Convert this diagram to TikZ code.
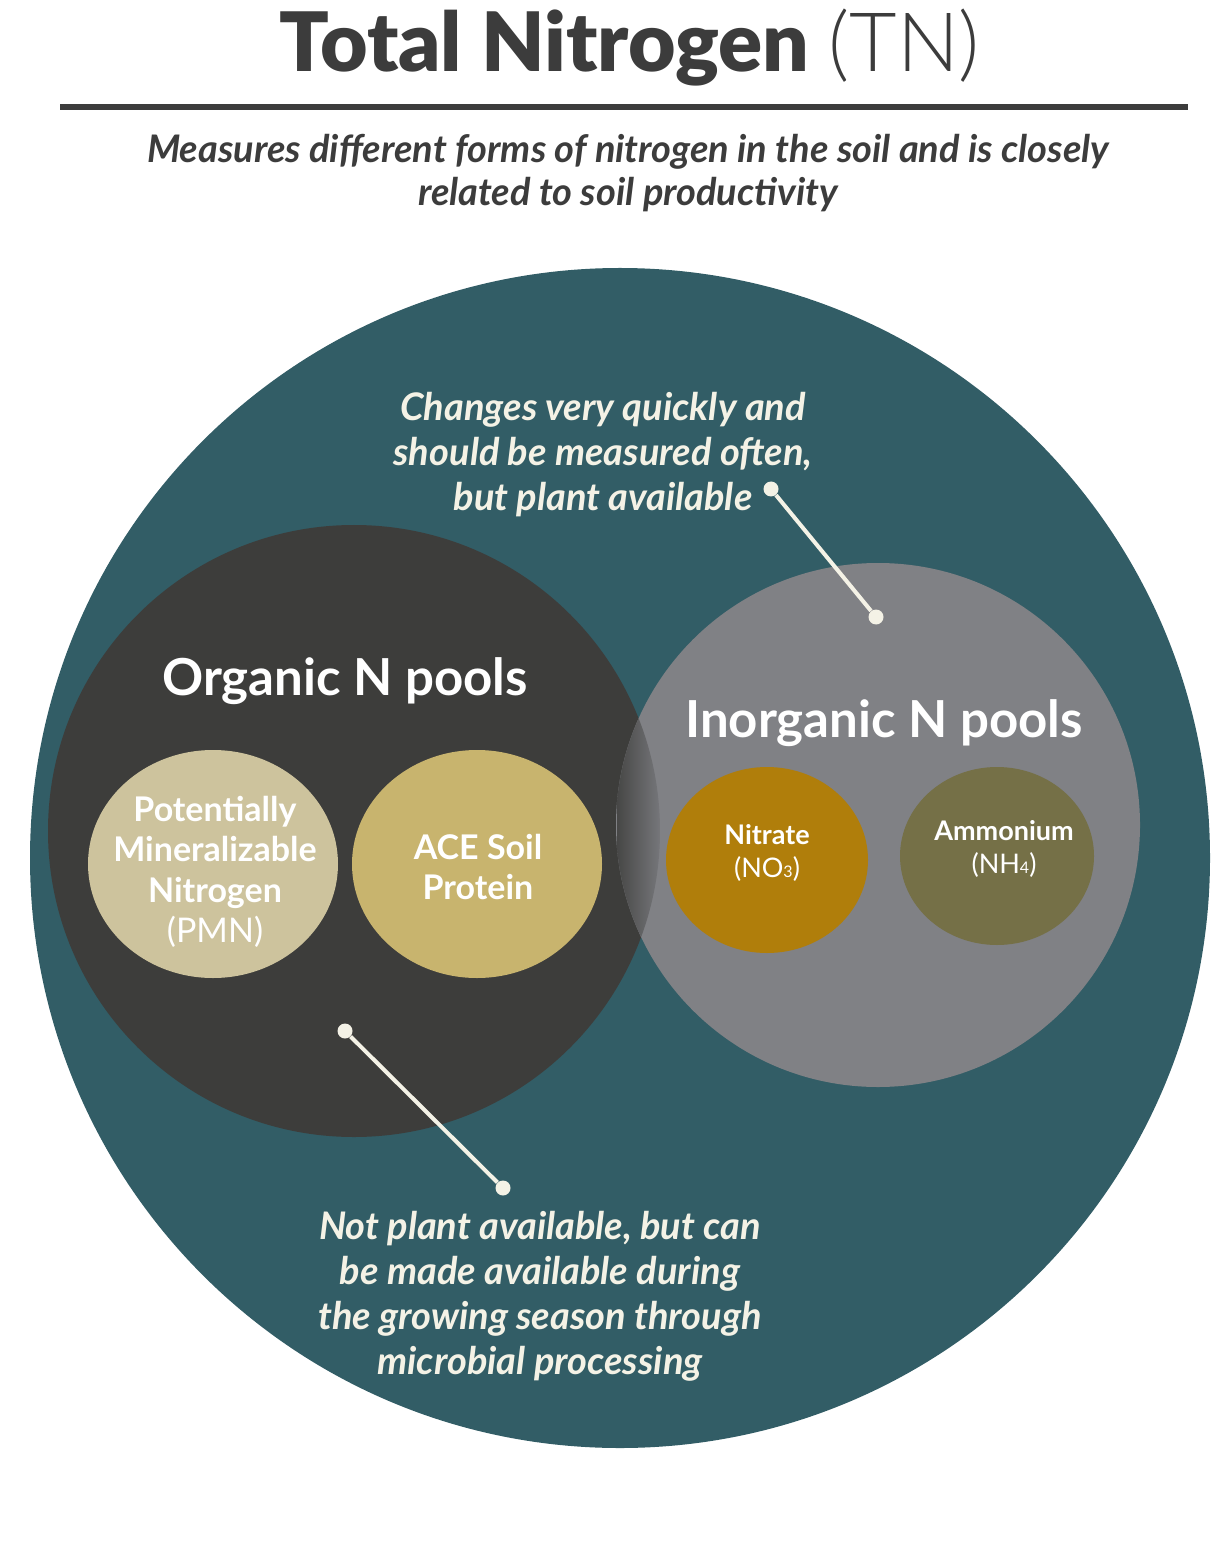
\documentclass[tikz,border=0pt]{standalone}
\usepackage{fontspec}
\setmainfont{Lato}
\newfontfamily\blackfont{Lato Black}
\newfontfamily\lightfont{Lato Light}
\usetikzlibrary{shapes.geometric}

\definecolor{ink}{HTML}{3C3C3C}
\definecolor{teal}{HTML}{325D66}
\definecolor{orgdark}{HTML}{3D3D3B}
\definecolor{inorggray}{HTML}{808185}
\definecolor{pmncol}{HTML}{CDC39D}
\definecolor{acecol}{HTML}{C8B46E}
\definecolor{nitcol}{HTML}{B07E0B}
\definecolor{ammcol}{HTML}{757047}
\definecolor{cream}{HTML}{F4F2E6}

\begin{document}
\begin{tikzpicture}[x=0.5pt,y=-0.5pt,
  pool/.style={circle, inner sep=0pt, draw=none},
  subpool/.style={ellipse, inner sep=0pt, draw=none},
  dotend/.style={circle, fill=cream, inner sep=0pt, minimum size=7.5pt},
  conn/.style={draw=cream, line width=2pt},
  poolname/.style={text=white, font=\bfseries\fontsize{25.5}{30}\selectfont, anchor=base},
  subname/.style={text=white, align=center, font=\bfseries\fontsize{17}{20.25}\selectfont},
  smallname/.style={text=white, align=center, font=\bfseries\fontsize{13.5}{16.5}\selectfont},
  note/.style={text=cream, align=center, font=\bfseries\itshape\fontsize{19}{22.5}\selectfont}]

\useasboundingbox (0,0) rectangle (1214,1550);

% heading
\node[font=\blackfont\fontsize{41}{49}\selectfont, text=ink, anchor=base] (title) at (630,72)
  {Total Nitrogen {\lightfont (TN)}};
\coordinate (rulel) at (60,107);
\coordinate (ruler) at (1188,107);
\draw[ink, line width=3pt] (rulel) -- (ruler);
\node[align=center, text=ink, font=\bfseries\itshape\fontsize{19}{21.5}\selectfont] (subt) at (628,173)
  {Measures different forms of nitrogen in the soil and is closely\\related to soil productivity};

% nested pools
\node[pool, fill=teal, minimum size=590pt] (total) at (620,858) {};
\node[pool, fill=orgdark, minimum size=306pt] (org) at (354,831) {};
\node[pool, fill=inorggray, minimum size=262pt] (inorg) at (878,825) {};

% overlap of the two pools
\begin{scope}
  \clip (org.center) circle[radius=306];
  \clip (inorg.center) circle[radius=262];
  \shade[left color=orgdark!85!inorggray, right color=inorggray!92!black] (617,550) rectangle (660,1100);
\end{scope}

\node[poolname] (orgname) at (345,695) {Organic N pools};
\node[poolname] (inorgname) at (884,737) {Inorganic N pools};

% organic measures
\node[subpool, fill=pmncol, minimum width=125pt, minimum height=114pt] (pmn) at (213,864) {};
\node[subpool, fill=acecol, minimum width=125pt, minimum height=114pt] (ace) at (477,864) {};
\node[subname] (pmntext) at (215,872)
  {Potentially\\Mineralizable\\Nitrogen\\{\mdseries (PMN)}};
\node[subname] (acetext) at (478,867) {ACE Soil\\Protein};

% inorganic measures
\node[subpool, fill=nitcol, minimum width=101pt, minimum height=93pt] (nit) at (767,860) {};
\node[subpool, fill=ammcol, minimum width=97pt, minimum height=89pt] (amm) at (997,856) {};
\node[smallname] (nittext) at (767,853)
  {Nitrate\\{\mdseries (NO{\fontsize{8}{8}\selectfont 3})}};
\node[smallname] (ammtext) at (1004,849)
  {Ammonium\\{\mdseries (NH{\fontsize{8}{8}\selectfont 4})}};

% callouts
\node[note] (topnote) at (603,455)
  {Changes very quickly and\\should be measured often,\\but plant available};
\node[note] (botnote) at (540,1296)
  {Not plant available, but can\\be made available during\\the growing season through\\microbial processing};

\node[dotend] (ta) at (771,489) {};
\node[dotend] (tb) at (876,617) {};
\draw[conn] (ta) -- (tb);
\node[dotend] (ba) at (345,1031) {};
\node[dotend] (bb) at (503,1188) {};
\draw[conn] (ba) -- (bb);
\end{tikzpicture}
\end{document}
